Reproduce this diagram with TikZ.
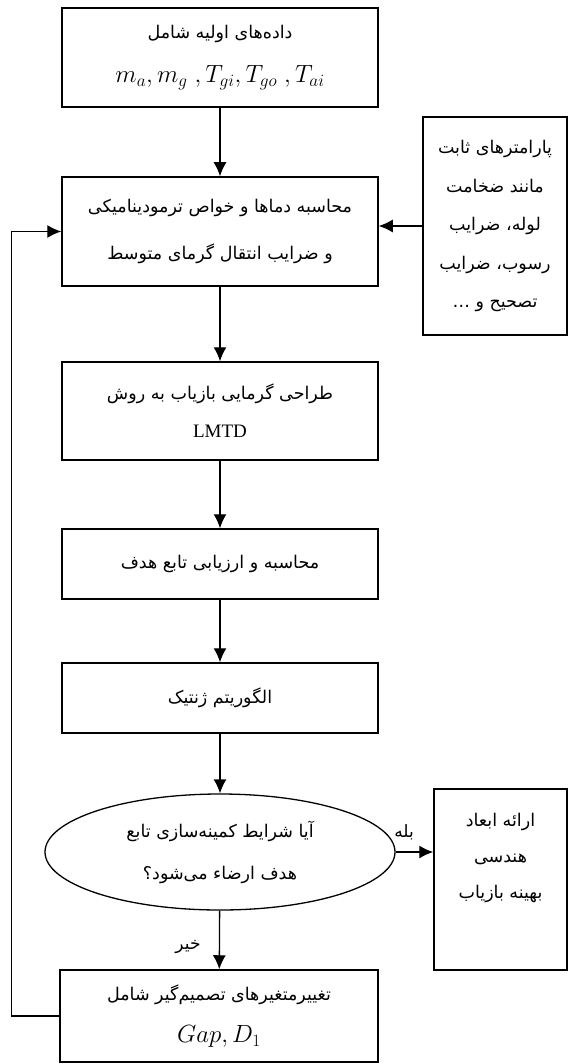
\documentclass[tikz,border=0pt]{standalone}
\usepackage{amsmath,amssymb,fontspec}
\usepackage{xcolor}
\usetikzlibrary{shapes.geometric,arrows.meta,positioning}
\TeXXeTstate=1
\newfontfamily\arabicfont[Script=Arabic]{DejaVu Sans}
\newfontfamily\timesfont{Liberation Serif}
\newcommand{\fa}[1]{{\arabicfont\beginR #1\endR}}

\begin{document}
\begin{tikzpicture}[x=1pt, y=-1pt, >={Latex[length=14pt,width=13pt]},
  block/.style={draw, rectangle, line width=1.5pt, align=center, inner sep=0pt, font=\fontsize{17.5}{40}\selectfont},
  decision/.style={draw, ellipse, line width=1.3pt, align=center, inner sep=0pt, font=\fontsize{17.5}{42}\selectfont},
  conn/.style={line width=1.3pt},
  tag/.style={font=\fontsize{17}{18}\selectfont, inner sep=1pt}]
\useasboundingbox (0,0) rectangle (569,1064);

% main column
\node[block, minimum width=316, minimum height=99] (data) at (220,57.5)
  {\fa{داده‌های اولیه شامل}\\[4pt] {\fontsize{23}{24}\selectfont $m_a, m_g\ ,T_{gi}, T_{go}\ ,T_{ai}$}};
\node[block, minimum width=316, minimum height=109, font=\fontsize{17.5}{47}\selectfont] (calc) at (220,231.5)
  {\fa{محاسبه دماها و خواص ترمودینامیکی}\\ \fa{و ضرایب انتقال گرمای متوسط}};
\node[block, minimum width=316, minimum height=98] (lmtd) at (220,411)
  {\fa{طراحی گرمایی بازیاب به روش}\\[-2pt] {\timesfont\fontsize{19}{20}\selectfont LMTD}};
\node[block, minimum width=316, minimum height=70] (obj) at (220,564)
  {\fa{محاسبه و ارزیابی تابع هدف}};
\node[block, minimum width=316, minimum height=70] (ga) at (220,698)
  {\fa{الگوریتم ژنتیک}};
\node[decision, minimum width=350, minimum height=116] (dec) at (220,852)
  {\fa{آیا شرایط کمینه‌سازی تابع}\\ \fa{هدف ارضاء می‌شود؟}};
\node[block, minimum width=318, minimum height=92, font=\fontsize{17.5}{42}\selectfont] (change) at (219,1016)
  {\fa{تغییرمتغیرهای تصمیم‌گیر شامل}\\ {\fontsize{23}{24}\selectfont $Gap, D_1$}};

% side boxes
\node[block, minimum width=144, minimum height=218, font=\fontsize{17.5}{38.5}\selectfont] (params) at (495,226)
  {\fa{پارامترهای ثابت}\\ \fa{مانند ضخامت}\\ \fa{لوله، ضرایب}\\ \fa{رسوب، ضرایب}\\ \fa{تصحیح و …}};
\node[block, minimum width=133, minimum height=181, font=\fontsize{17.5}{36}\selectfont] (result) at (500.5,879.5)
  {\fa{ارائه ابعاد}\\ \fa{هندسی}\\ \fa{بهینه بازیاب}\\[12pt]};

% connectors
\draw[conn,->] (data) -- (calc);
\draw[conn,->] (params.west) -- (params.west -| calc.east);
\draw[conn,->] (calc) -- (lmtd);
\draw[conn,->] (lmtd) -- (obj);
\draw[conn,->] (obj) -- (ga);
\draw[conn,->] (ga) -- (dec);
\draw[conn,->] (dec.east) -- (dec.east -| result.west);
\draw[conn,->] (dec) -- (change);
\draw[conn,->] (change.west) -- ++(-48,0) |- (calc.west);

% labels
\node[tag] (yes) at (404,832) {\fa{بله}};
\node[tag] (no) at (188,947) {\fa{خیر}};

\end{tikzpicture}
\end{document}
